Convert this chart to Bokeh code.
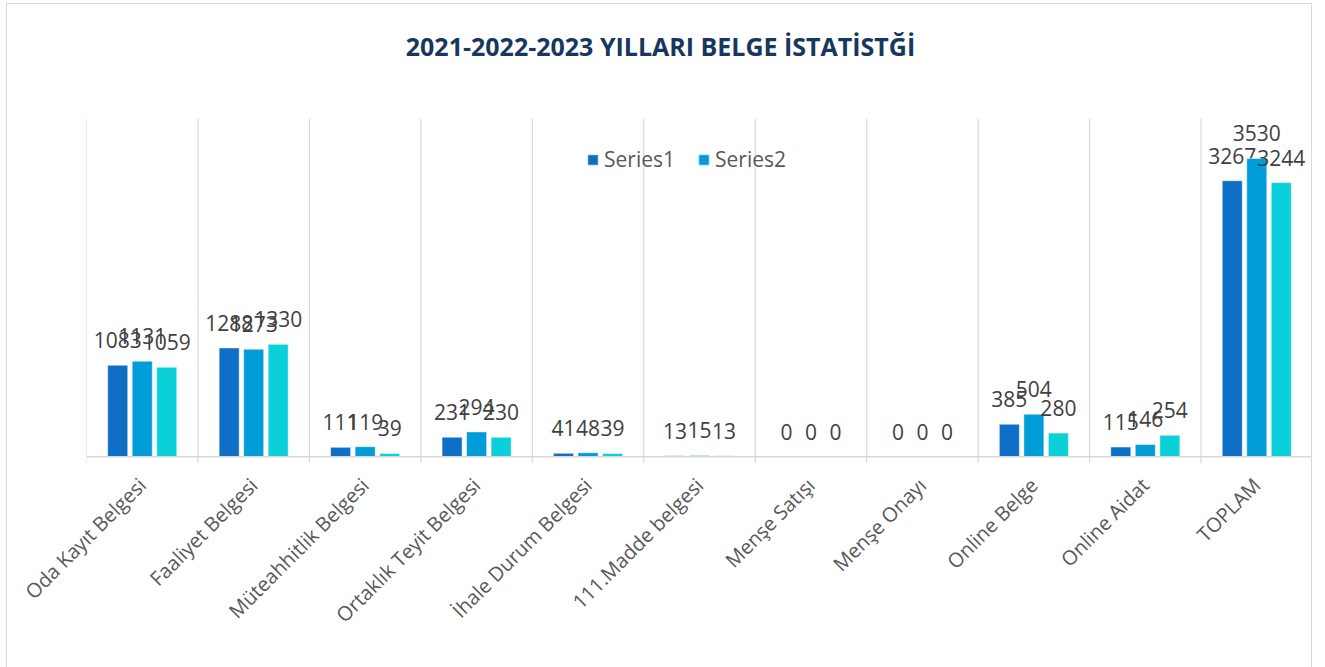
import math
from bokeh.plotting import figure
from bokeh.models import ColumnDataSource, FactorRange, Range1d, Legend, LegendItem, Span, Label
from bokeh.transform import dodge
from bokeh.core.properties import value
from bokeh.embed import file_html
from bokeh.resources import INLINE

categories = ["Oda Kayıt Belgesi", "Faaliyet Belgesi", "Müteahhitlik Belgesi",
              "Ortaklık Teyit Belgesi", "İhale Durum Belgesi", "111.Madde belgesi",
              "Menşe Satışı", "Menşe Onayı", "Online Belge", "Online Aidat", "TOPLAM"]
series1 = [1083, 1288, 111, 231, 41, 13, 0, 0, 385, 115, 3267]
series2 = [1131, 1273, 119, 294, 48, 15, 0, 0, 504, 146, 3530]
series3 = [1059, 1330, 39, 230, 39, 13, 0, 0, 280, 254, 3244]
series_names = ["Series1", "Series2", "Series3"]
colors = ["#0F6FC6", "#009DD9", "#0BD0D9"]
title_text = "2021-2022-2023 YILLARI BELGE İSTATİSTĞİ"

src = ColumnDataSource(dict(
    cat=categories,
    s1=series1, s2=series2, s3=series3,
    l1=[str(v) for v in series1], l2=[str(v) for v in series2], l3=[str(v) for v in series3],
))

# plot area value span is 0..4000 (plus a small band below the axis for tick marks);
# the frame extends upward so the chart title can sit inside it
YMIN, YMAX, YTOP = -80, 4000, 5352
p = figure(width=1306, height=664, x_range=FactorRange(factors=categories, range_padding=0),
           y_range=Range1d(YMIN, YTOP), output_backend="svg", toolbar_location=None,
           min_border_left=79, min_border_right=1, min_border_top=0, min_border_bottom=205)
p.styles = {"margin-left": "6px", "margin-top": "3px",
            "border-left": "1px solid #d9d9d9", "border-top": "1px solid #d9d9d9",
            "border-right": "1px solid #d9d9d9", "box-sizing": "border-box"}
p.outline_line_color = None
p.yaxis.visible = False
p.ygrid.grid_line_color = None
p.xgrid.grid_line_color = None

p.add_layout(Label(x=5.15, y=4866, text=title_text,
                   text_align="center", text_baseline="middle",
                   text_font="Open Sans", text_font_size="25px", text_font_style="bold",
                   text_color="#17375E"))

# category boundary gridlines (extend below the axis like tick marks)
bsrc = ColumnDataSource(dict(cat=categories))
p.segment(x0=dodge("cat", -0.5, range=p.x_range), y0=YMIN,
          x1=dodge("cat", -0.5, range=p.x_range), y1=YMAX,
          source=bsrc, line_color="#d9d9d9", line_width=1.2)
p.add_layout(Span(location=0, dimension="width", line_color="#d9d9d9", line_width=1.5))

offsets = [-0.22, 0.0, 0.22]
renderers = []
for i, (col, lab) in enumerate([("s1", "l1"), ("s2", "l2"), ("s3", "l3")]):
    r = p.vbar(x=dodge("cat", offsets[i], range=p.x_range), top=col, bottom=0, width=0.18,
               source=src, fill_color=colors[i], line_color="white", line_width=0.5)
    renderers.append(r)
    p.text(x=dodge("cat", offsets[i], range=p.x_range), y=col, text=lab, source=src,
           text_align="center", text_baseline="alphabetic", y_offset=-25,
           text_font=value("Open Sans"), text_font_size="21px", text_color="#404040")

legend = Legend(items=[LegendItem(label=series_names[0], renderers=[renderers[0]]),
                       LegendItem(label=series_names[1], renderers=[renderers[1]])],
                orientation="horizontal", location=(500, 290),
                border_line_color=None, background_fill_alpha=0,
                label_text_font="Open Sans", label_text_font_size="21px",
                label_text_color="#595959", glyph_width=13, glyph_height=13,
                label_standoff=5, spacing=22, padding=0, margin=0)
p.add_layout(legend)

xa = p.xaxis[0]
xa.axis_line_color = None
xa.major_tick_line_color = None
xa.minor_tick_line_color = None
xa.major_label_orientation = math.pi / 4
xa.major_label_text_font = "Open Sans"
xa.major_label_text_font_size = "20px"
xa.major_label_text_color = "#595959"
xa.major_label_standoff = 12

open("out.html", "w").write(file_html(p, INLINE))
